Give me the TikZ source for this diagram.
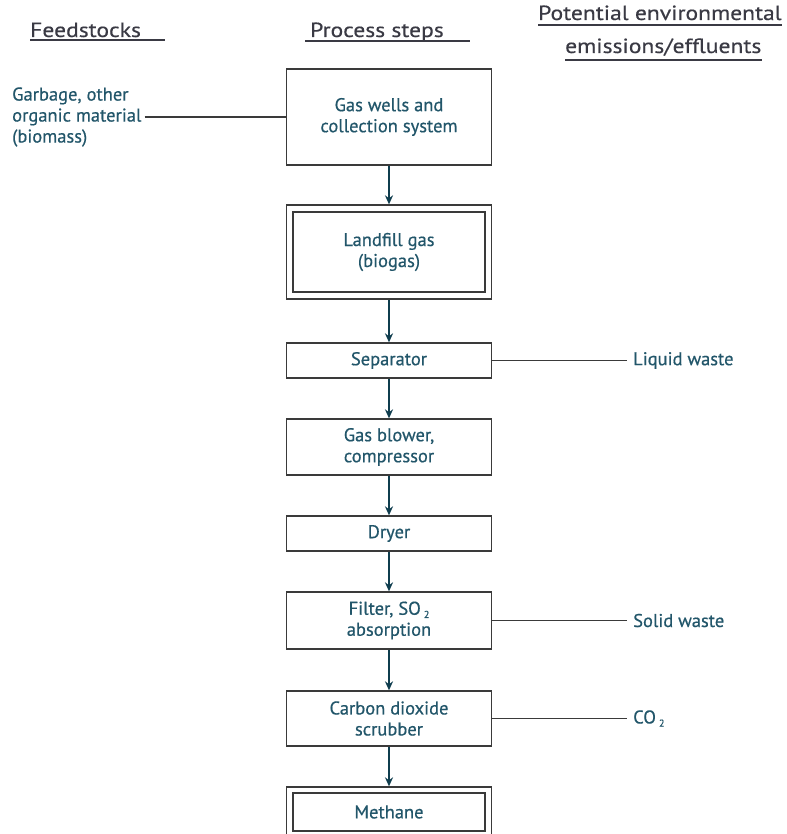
\documentclass[tikz,border=0pt]{standalone}
\usepackage{fontspec}
\setmainfont{PT Sans}[FakeBold=0.5]
\newfontfamily\bodyfamily{PT Sans}[FakeBold=0.5]
\newfontfamily\headfamily{PT Sans}[FakeStretch=1.15]
\usetikzlibrary{arrows.meta}
\definecolor{txt}{HTML}{22566A}
\definecolor{headtxt}{HTML}{3A3A44}
\definecolor{edge}{HTML}{3A3A3A}
\definecolor{flow}{HTML}{0F3D4E}
\newcommand{\subtwo}{\,\raisebox{-0.35ex}{\fontsize{10}{10}\selectfont 2}}
\begin{document}
\begin{tikzpicture}[x=1pt,y=-1pt,
  bodyfont/.style={font=\bodyfamily\addfontfeature{FakeBold=0.5}\fontsize{18.5}{21}\selectfont},
  headfont/.style={font=\headfamily\addfontfeature{FakeBold=0.4}\fontsize{20.5}{24}\selectfont},
  stepbox/.style={draw=edge, line width=1.3pt, minimum width=205pt,
    align=center, text=txt, bodyfont, inner sep=0pt},
  innerbox/.style={draw=edge, line width=1.3pt, minimum width=192pt,
    align=center, text=txt, bodyfont, inner sep=0pt},
  label/.style={text=txt, bodyfont, inner sep=0pt},
  heading/.style={text=headtxt, headfont, inner sep=0pt, anchor=base west},
  flow/.style={draw=flow, line width=1.5pt, -{Stealth[length=9pt,width=8pt]}},
  side/.style={draw=edge, line width=1.2pt},
  rule/.style={draw=headtxt, line width=1.3pt}
]
\clip (0,0) rectangle (786,834);
\fill[white] (0,0) rectangle (786,834);

% column headings
\node[heading] (hfeed) at (30,37) {Feedstocks};
\node[heading] (hproc) at (310,37) {Process steps};
\node[heading] (hpot)  at (538,20) {Potential environmental};
\node[heading] (hemis) at (565,53) {emissions/effluents};
\draw[rule] ([yshift=-3pt]hfeed.base west) -- ++(135,0);
\draw[rule] ([yshift=-4pt,xshift=-5pt]hproc.base west) -- ++(165,0);
\draw[rule] ([yshift=-5pt]hpot.base west) -- ([yshift=-5pt]hpot.base east);
\draw[rule] ([yshift=-7pt]hemis.base west) -- ([yshift=-7pt]hemis.base east);

% process chain
\node[stepbox, minimum height=96pt] (wells) at (389,117) {Gas wells and\\collection system};
\node[stepbox, minimum height=94pt] (lfgout) at (389,252) {};
\node[innerbox, minimum height=80pt] (lfg) at (389,252) {Landfill gas\\(biogas)};
\node[stepbox, minimum height=35pt] (sep) at (389,360.5) {Separator};
\node[stepbox, minimum height=56pt] (blower) at (389,447) {Gas blower,\\compressor};
\node[stepbox, minimum height=35pt] (dryer) at (389,533.5) {Dryer};
\node[stepbox, minimum height=57pt] (filter) at (389,620.5) {Filter, SO\subtwo\\absorption};
\node[stepbox, minimum height=55pt] (scrub) at (389,718.5) {Carbon dioxide\\scrubber};
\node[stepbox, minimum height=52pt] (methout) at (389,813) {};
\node[innerbox, minimum height=38pt] (meth) at (389,812) {Methane};

\draw[flow] (wells.south) -- (lfgout.north);
\draw[flow] (lfgout.south) -- (sep.north);
\draw[flow] (sep.south) -- (blower.north);
\draw[flow] (blower.south) -- (dryer.north);
\draw[flow] (dryer.south) -- (filter.north);
\draw[flow] (filter.south) -- (scrub.north);
\draw[flow] (scrub.south) -- (methout.north);

% feedstock
\node[label, anchor=west, align=left, inner sep=3pt] (feed) at (9,117)
  {Garbage, other\\organic material\\(biomass)};
\draw[side] (feed.east) -- (wells.west);

% emissions and effluents
\node[label, anchor=west] (liq) at (633,360.5) {Liquid waste};
\node[label, anchor=west] (solid) at (633,620.5) {Solid waste};
\node[label, anchor=west] (co2) at (633,718.5) {CO\subtwo};
\draw[side] (sep.east) -- ([xshift=-6pt]liq.west);
\draw[side] (filter.east) -- ([xshift=-6pt]solid.west);
\draw[side] (scrub.east) -- ([xshift=-6pt]co2.west);
\end{tikzpicture}
\end{document}
